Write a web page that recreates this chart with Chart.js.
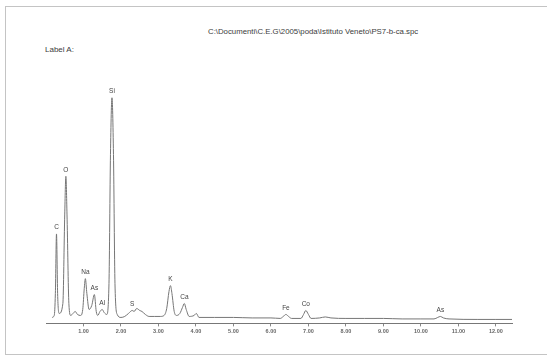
<!DOCTYPE html>
<html lang="en">
<head>
  <meta charset="UTF-8">
  <title>EDS spectrum</title>
  <style>
    body {
      margin: 0;
      background: #fff;
      font-family: "Liberation Sans", Arial, sans-serif;
    }
    .page {
      position: relative;
      width: 547px;
      height: 356px;
      overflow: hidden;
    }
    .frame {
      position: absolute;
      left: 5px;
      top: 6px;
      width: 600px;
      height: 347px;
      border: 1px solid #c4c4c4;
    }
    .title {
      position: absolute;
      left: 208px;
      top: 27px;
      font-size: 7.8px;
      color: #3c3c3c;
      white-space: nowrap;
    }
    .label-a {
      position: absolute;
      left: 45px;
      top: 45px;
      font-size: 8px;
      color: #3c3c3c;
    }
    #wrap {
      position: absolute;
      left: 0;
      top: 0;
      width: 547px;
      height: 356px;
    }
  </style>
</head>
<body>
  <div class="page">
    <div class="frame"></div>
    <div class="title">C:\Documenti\C.E.G\2005\poda\Istituto Veneto\PS7-b-ca.spc</div>
    <div class="label-a">Label A:</div>
    <div id="wrap"><canvas id="spectrum"></canvas></div>
  </div>

  <script src="https://cdn.jsdelivr.net/npm/chart.js"></script>
  <script>
    // spectrum (energy in keV, counts in arbitrary units)
    const energy = [
      0.16, 0.22, 0.25, 0.28, 0.31, 0.35, 0.45, 0.50, 0.53, 0.56, 0.61, 0.66,
      0.72, 0.78, 0.84, 0.92, 0.98, 1.02, 1.05, 1.09, 1.15, 1.22, 1.29, 1.34,
      1.38, 1.44, 1.50, 1.55, 1.62, 1.68, 1.72, 1.76, 1.80, 1.84, 1.90, 2.00,
      2.10, 2.20, 2.30, 2.35, 2.42, 2.50, 2.56, 2.65, 2.75, 2.90, 3.05, 3.15,
      3.22, 3.28, 3.32, 3.36, 3.42, 3.48, 3.57, 3.64, 3.69, 3.74, 3.82, 3.95,
      4.01, 4.08, 4.50, 5.00, 5.50, 6.00, 6.25, 6.33, 6.40, 6.47, 6.55, 6.80,
      6.87, 6.93, 7.00, 7.07, 7.30, 7.45, 7.60, 8.00, 8.50, 9.00, 9.50, 10.00,
      10.35, 10.45, 10.52, 10.60, 10.75, 11.50, 12.00, 12.43
    ];
    const counts = [
      6, 8, 30, 90, 30, 10, 20, 110, 148, 110, 20, 8,
      10, 12, 9, 8, 14, 35, 45, 30, 14, 18, 29, 12,
      8, 12, 14, 11, 9, 40, 170, 227, 170, 40, 9, 6,
      7, 10, 13, 12, 15, 13, 12, 9, 7, 7, 7, 8,
      15, 32, 38, 30, 12, 8, 10, 16, 20, 14, 7, 8,
      10, 6, 6, 6, 5.5, 5.5, 5, 7, 9, 7, 5, 5,
      9, 13, 9, 5, 5.5, 6.5, 5.5, 5, 5, 5, 4.5, 4.5,
      4.5, 6, 7, 5.5, 4.5, 4, 4, 4
    ];

    // element lines marked on the spectrum
    const peakNames = ["C", "O", "Na", "As", "Al", "Si", "S", "K", "Ca", "Fe", "Co", "As"];
    const peakEnergies = [0.28, 0.53, 1.05, 1.29, 1.50, 1.76, 2.30, 3.32, 3.69, 6.40, 6.93, 10.52];

    const tickValues = [1, 2, 3, 4, 5, 6, 7, 8, 9, 10, 11, 12];

    const points = energy.map((e, i) => ({ x: e, y: counts[i] }));

    // writes the element names above their peaks
    const peakLabels = {
      id: 'peakLabels',
      afterDatasetsDraw(chart) {
        const ctx = chart.ctx;
        const xs = chart.scales.x;
        const ys = chart.scales.y;
        ctx.save();
        ctx.font = '6.5px "Liberation Sans", Arial, sans-serif';
        ctx.fillStyle = '#444';
        ctx.textAlign = 'center';
        ctx.textBaseline = 'bottom';
        peakNames.forEach((name, i) => {
          const idx = energy.indexOf(peakEnergies[i]);
          const x = xs.getPixelForValue(peakEnergies[i]);
          const y = ys.getPixelForValue(counts[idx]) - 3;
          ctx.fillText(name, x, y);
        });
        ctx.restore();
      }
    };

    new Chart(document.getElementById('spectrum'), {
      type: 'line',
      data: {
        datasets: [{
          data: points,
          borderColor: '#767676',
          borderWidth: 1,
          pointRadius: 0,
          fill: false,
          cubicInterpolationMode: 'monotone'
        }]
      },
      options: {
        responsive: true,
        maintainAspectRatio: false,
        animation: false,
        layout: { padding: { left: 46, right: 35, top: 60, bottom: 19 } },
        plugins: {
          legend: { display: false },
          tooltip: { enabled: false }
        },
        scales: {
          x: {
            type: 'linear',
            min: 0,
            max: 12.43,
            afterBuildTicks(scale) {
              scale.ticks = tickValues.map(v => ({ value: v }));
            },
            ticks: {
              autoSkip: false,
              maxRotation: 0,
              padding: 2,
              color: '#666',
              font: { family: '"Liberation Sans", Arial, sans-serif', size: 5.5, weight: 'bold' },
              callback: v => Number(v).toFixed(2)
            },
            grid: {
              drawOnChartArea: false,
              tickLength: 3,
              color: '#888'
            },
            border: { display: true, color: '#777', width: 1 }
          },
          y: {
            display: false,
            min: 0,
            max: 265
          }
        }
      },
      plugins: [peakLabels]
    });
  </script>
</body>
</html>
